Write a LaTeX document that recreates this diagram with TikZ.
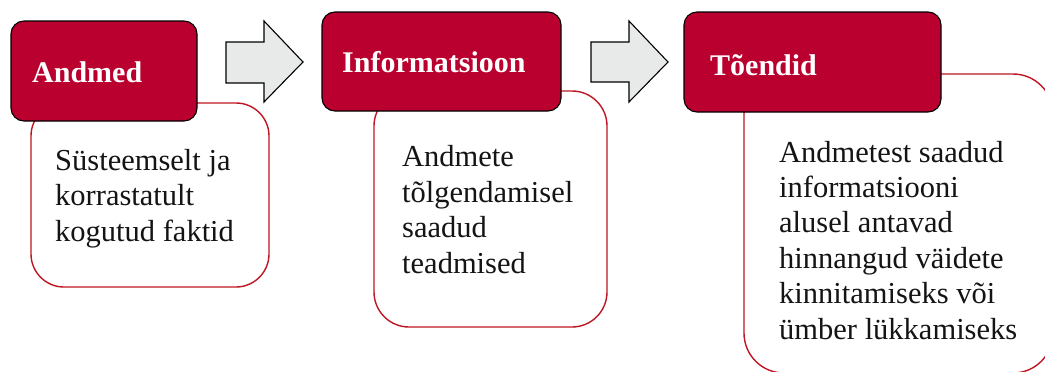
\documentclass[tikz,border=0pt]{standalone}
\usepackage{fontspec}
\setmainfont{Liberation Serif}
\definecolor{hdrred}{HTML}{B9002F}
\definecolor{bodyred}{HTML}{BE1622}
\definecolor{arrowgray}{HTML}{E8E9E9}
\definecolor{ink}{HTML}{141414}
\begin{document}
\begin{tikzpicture}[x=1pt,y=-1pt,
  hdr/.style={draw=black, line width=1.1pt, fill=hdrred, rounded corners=13pt, inner sep=0pt},
  bodybox/.style={draw=bodyred, line width=1.4pt, fill=white, rounded corners=#1, inner sep=0pt},
  hdrtext/.style={text=white, inner sep=0pt, anchor=base west, font=\bfseries\fontsize{30}{36}\selectfont},
  bodytext/.style={text=ink, inner sep=0pt, anchor=base west, align=left, font=\fontsize{30.5}{35.4}\selectfont},
  fatarrow/.style={draw=black, line width=1.1pt, fill=arrowgray, line join=miter}
]
\useasboundingbox (0,0) rectangle (1045,372);

% text panels behind the headers
\node[bodybox=33pt, minimum width=238pt, minimum height=184pt] (body1) at (150,195) {};
\node[bodybox=35pt, minimum width=233pt, minimum height=236pt] (body2) at (490.5,209) {};
\node[bodybox=40pt, minimum width=309pt, minimum height=299pt] (body3) at (898.5,223.5) {};

% headers
\node[hdr, minimum width=186pt, minimum height=100pt] (hdr1) at (104,71) {};
\node[hdr, minimum width=239pt, minimum height=99pt] (hdr2) at (441.5,61.5) {};
\node[hdr, minimum width=257pt, minimum height=100pt] (hdr3) at (812.5,62) {};

% header titles
\node[hdrtext] (title1) at (32,82) {Andmed};
\node[hdrtext] (title2) at (342,72) {Informatsioon};
\node[hdrtext] (title3) at (710,75) {Tõendid};

% panel texts (anchored on the baseline of their last line)
\node[bodytext] (text1) at (55,241) {Süsteemselt ja\\korrastatult\\kogutud faktid};
\node[bodytext] (text2) at (402,273) {Andmete\\tõlgendamisel\\saadud\\teadmised};
\node[bodytext] (text3) at (779,339) {Andmetest saadud\\informatsiooni\\alusel antavad\\hinnangud väidete\\kinnitamiseks või\\ümber lükkamiseks};

% block arrows between the stages
\coordinate (arr1) at (226,42);
\coordinate (arr2) at (591,42);
\draw[fatarrow] (arr1) -- ++(38,0) -- ++(0,-21) -- ++(39,41) -- ++(-39,40) -- ++(0,-19) -- ++(-38,0) -- cycle;
\draw[fatarrow] (arr2) -- ++(38,0) -- ++(0,-21) -- ++(39,41) -- ++(-39,40) -- ++(0,-20) -- ++(-38,0) -- cycle;
\end{tikzpicture}
\end{document}
